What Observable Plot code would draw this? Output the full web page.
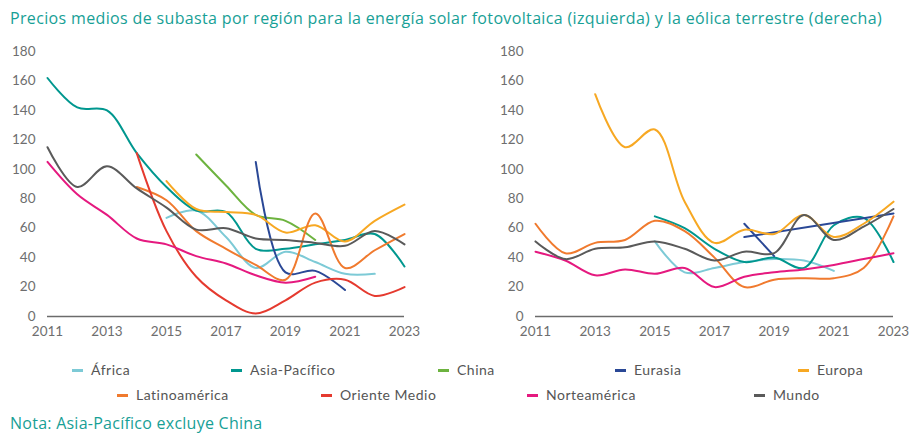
<!DOCTYPE html>
<html><head><meta charset="utf-8">
<script src="https://cdn.jsdelivr.net/npm/d3@7"></script>
<script src="https://cdn.jsdelivr.net/npm/@observablehq/plot@0.6"></script>
<style>
body{margin:0;background:#fff;font-family:Lato, "Open Sans", sans-serif;}
#wrap{position:relative;width:915px;height:434px;overflow:hidden;}
#title{position:absolute;left:10px;top:7px;font-family:"Open Sans", sans-serif;font-size:16px;letter-spacing:0.35px;color:#17a096;white-space:nowrap;}
#left{position:absolute;left:0;top:36px;}
#right{position:absolute;left:457px;top:36px;}
.leg{position:absolute;font-size:14px;letter-spacing:0.5px;color:#555;white-space:nowrap;line-height:16px;}
.sw{position:absolute;width:11px;height:3px;}
#note{position:absolute;left:10px;top:412px;font-family:"Open Sans", sans-serif;font-size:16px;letter-spacing:0.25px;color:#17a096;white-space:nowrap;}
</style>
</head><body>
<div id="wrap">
  <div id="title">Precios medios de subasta por región para la energía solar fotovoltaica (izquierda) y la eólica terrestre (derecha)</div>
  <div id="left"></div>
  <div id="right"></div>
  <div id="legend"></div>
  <div id="note">Nota: Asia-Pacífico excluye China</div>
</div>
<script>
const years = [2011, 2012, 2013, 2014, 2015, 2016, 2017, 2018, 2019, 2020, 2021, 2022, 2023];
const xTicks = [2011, 2013, 2015, 2017, 2019, 2021, 2023];
const yTicks = [0, 20, 40, 60, 80, 100, 120, 140, 160, 180];

const seriesNames = ["África", "Asia-Pacífico", "China", "Eurasia", "Europa", "Latinoamérica", "Oriente Medio", "Norteamérica", "Mundo"];
const seriesColors = ["#7dcad6", "#00978f", "#6db33f", "#2a4896", "#f7a823", "#f07a2e", "#e53a2f", "#e5197f", "#5a5a5a"];

// Solar fotovoltaica (izquierda)
const solarAfrica        = [null, null, null, null, 67, 72, 54, 33, 44, 37, 29, 29, null];
const solarAsiaPacifico  = [162, 142, 140, 111, 88, 72, 71, 46, 46, 49, 52, 56, 34];
const solarChina         = [null, null, null, null, null, 110, 89, 69, 65, 52, null, null, null];
const solarEurasia       = [null, null, null, null, null, null, null, 105, 30, 31, 18, null, null];
const solarEuropa        = [null, null, null, null, 92, 73, 71, 69, 57, 62, 51, 65, 76];
const solarLatinoamerica = [null, null, null, 88, 79, 58, 46, 35, 25, 70, 33, 45, 56];
const solarOrienteMedio  = [null, null, null, 111, 58, 27, 11, 2, 11, 23, 25, 14, 20];
const solarNorteamerica  = [105, 83, 69, 53, 49, 41, 36, 28, 23, 27, null, null, null];
const solarMundo         = [115, 88, 102, 87, 74, 59, 60, 53, 52, 50, 48, 58, 49];

// Eólica terrestre (derecha)
const windAfrica        = [null, null, null, null, 51, 30, 33, 37, 39, 38, 31, null, null];
const windAsiaPacifico  = [null, null, null, null, 68, 60, 46, 37, 40, 33, 62, 67, 37];
const windEurasiaA      = [null, null, null, null, null, null, null, 63, 41, null, null, null, null];
const windEurasiaB      = [null, null, null, null, null, null, null, 54, null, null, null, null, 70];
const windEuropa        = [null, null, 151, 115, 127, 78, 50, 59, 56, 69, 54, 63, 78];
const windLatinoamerica = [63, 43, 50, 52, 65, 58, 40, 20, 25, 26, 26, 33, 68];
const windNorteamerica  = [44, 38, 28, 32, 29, 33, 20, 27, 30, 32, 35, 39, 43];
const windMundo         = [51, 39, 46, 47, 51, 46, 38, 44, 43, 69, 52, 61, 73];

function toRows(list) {
  const rows = [];
  for (const [series, key, vals] of list) {
    vals.forEach((v, i) => { if (v != null) rows.push({series, key, year: years[i], value: v}); });
  }
  return rows;
}

const solarRows = toRows([
  ["África", "a", solarAfrica],
  ["Asia-Pacífico", "ap", solarAsiaPacifico],
  ["China", "c", solarChina],
  ["Eurasia", "eu", solarEurasia],
  ["Europa", "e", solarEuropa],
  ["Latinoamérica", "l", solarLatinoamerica],
  ["Oriente Medio", "o", solarOrienteMedio],
  ["Norteamérica", "n", solarNorteamerica],
  ["Mundo", "m", solarMundo]
]);
const windRows = toRows([
  ["África", "a", windAfrica],
  ["Asia-Pacífico", "ap", windAsiaPacifico],
  ["Eurasia", "eua", windEurasiaA],
  ["Eurasia", "eub", windEurasiaB],
  ["Europa", "e", windEuropa],
  ["Latinoamérica", "l", windLatinoamerica],
  ["Norteamérica", "n", windNorteamerica],
  ["Mundo", "m", windMundo]
]);

function makePlot(rows, width, ml, mr) {
  return Plot.plot({
    width, height: 310,
    marginLeft: ml, marginRight: mr, marginTop: 15, marginBottom: 30,
    style: {fontFamily: "Lato, 'Open Sans', sans-serif", fontSize: "13.5px", color: "#6e6e6e", background: "transparent", overflow: "visible"},
    x: {domain: [2011, 2023], ticks: xTicks, tickFormat: d => String(d), tickSize: 0, tickPadding: 10, label: null},
    y: {domain: [0, 180], ticks: yTicks, tickSize: 0, tickPadding: 12, label: null},
    color: {domain: seriesNames, range: seriesColors},
    marks: [
      Plot.ruleY([0], {stroke: "#6b6b6b", strokeWidth: 1.3}),
      Plot.line(rows, {x: "year", y: "value", z: "key", stroke: "series", strokeWidth: 2, curve: "catmull-rom"})
    ]
  });
}

document.getElementById("left").append(makePlot(solarRows, 457, 47, 53));
document.getElementById("right").append(makePlot(windRows, 458, 78, 22));

// Legend
const legendPos = [
  [72, 370], [231, 370], [438, 370], [615, 370], [798, 370],
  [117, 395], [321, 395], [527, 395], [754, 395]
];
const leg = document.getElementById("legend");
seriesNames.forEach((name, i) => {
  const [x, y] = legendPos[i];
  const sw = document.createElement("div");
  sw.className = "sw";
  sw.style.left = x + "px"; sw.style.top = (y - 1) + "px";
  sw.style.background = seriesColors[i];
  leg.append(sw);
  const t = document.createElement("div");
  t.className = "leg";
  t.textContent = name;
  t.style.left = (x + 19) + "px"; t.style.top = (y - 8) + "px";
  leg.append(t);
});
</script>
</body></html>
